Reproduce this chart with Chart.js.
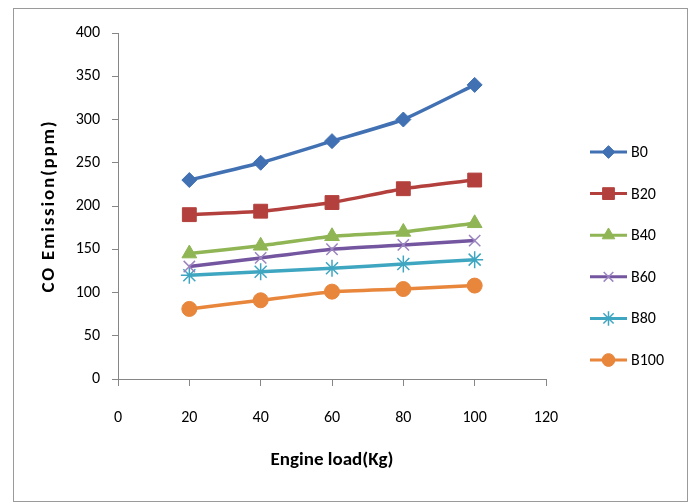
<!DOCTYPE html>
<html>
<head>
<meta charset="utf-8">
<script src="https://cdn.jsdelivr.net/npm/chart.js@4"></script>
<style>
  html, body { margin: 0; padding: 0; background: #fff; }
  #wrap { position: relative; width: 694px; height: 503px; }
</style>
</head>
<body>
<div id="wrap"><canvas id="c" width="694" height="503"></canvas></div>
<script>
const engineLoad = [20, 40, 60, 80, 100];
const seriesNames = ['B0', 'B20', 'B40', 'B60', 'B80', 'B100'];
const b0   = [230, 250, 275, 300, 340];
const b20  = [190, 194, 204, 220, 230];
const b40  = [145, 154, 165, 170, 180];
const b60  = [130, 140, 150, 155, 160];
const b80  = [120, 124, 128, 133, 138];
const b100 = [81, 91, 101, 104, 108];
const xTicks = [0, 20, 40, 60, 80, 100, 120];
const yTicks = [0, 50, 100, 150, 200, 250, 300, 350, 400];
const xTitle = 'Engine load(Kg)';
const yTitle = 'CO Emission(ppm)';

const FONT = "Carlito, 'Liberation Sans Narrow', 'Open Sans', sans-serif";
const seriesValues = [b0, b20, b40, b60, b80, b100];
const colors = ['#4171B3', '#B3403D', '#8FB554', '#7455A0', '#3FA6C1', '#E8863C'];
const markerColors = ['#4171B3', '#B3403D', '#8FB554', '#9C85BF', '#3FA6C1', '#E8863C'];
const styles = ['rectRot', 'rect', 'triangle', 'crossRot', 'star', 'circle'];
const radii = [7.5, 9.8, 8.5, 8, 8.5, 7.5];

const datasets = seriesNames.map((n, i) => ({
  label: n,
  data: engineLoad.map((x, j) => ({x: x, y: seriesValues[i][j]})),
  borderColor: colors[i],
  backgroundColor: markerColors[i],
  pointBorderColor: markerColors[i],
  pointBackgroundColor: markerColors[i],
  borderWidth: 3.5,
  pointStyle: styles[i],
  pointRadius: radii[i],
  pointBorderWidth: (styles[i] === 'crossRot' || styles[i] === 'star') ? 1.5 : 1,
  tension: 0.15,
  fill: false
}));

const frame = {
  id: 'frame',
  beforeDraw(chart) {
    const ctx = chart.ctx;
    ctx.save();
    ctx.fillStyle = '#fff';
    ctx.fillRect(0, 0, chart.width, chart.height);
    ctx.strokeStyle = '#9a9a9a';
    ctx.lineWidth = 1;
    ctx.strokeRect(13.5, 8.5, 674, 493);
    ctx.restore();
  }
};

const yTitlePlugin = {
  id: 'yTitlePlugin',
  afterDraw(chart) {
    const ctx = chart.ctx;
    const a = chart.chartArea;
    ctx.save();
    ctx.translate(53.5, (a.top + a.bottom) / 2);
    ctx.rotate(-Math.PI / 2);
    ctx.font = 'bold 19px ' + FONT;
    if ('letterSpacing' in ctx) ctx.letterSpacing = '1.8px';
    ctx.fillStyle = '#000';
    ctx.textAlign = 'center';
    ctx.textBaseline = 'alphabetic';
    ctx.fillText(yTitle, 0, 0);
    ctx.restore();
  }
};

const customLegend = {
  id: 'customLegend',
  afterDraw(chart) {
    const ctx = chart.ctx;
    ctx.save();
    const x0 = 590, x1 = 627, tx = 631, y0 = 152, dy = 41.6;
    chart.data.datasets.forEach((ds, i) => {
      const y = y0 + i * dy;
      ctx.strokeStyle = ds.borderColor;
      ctx.lineWidth = 3;
      ctx.beginPath();
      ctx.moveTo(x0, y);
      ctx.lineTo(x1, y);
      ctx.stroke();
      ctx.fillStyle = ds.pointBackgroundColor;
      ctx.strokeStyle = ds.pointBorderColor;
      ctx.lineWidth = ds.pointBorderWidth;
      Chart.helpers.drawPoint(ctx, {pointStyle: ds.pointStyle, radius: ds.pointRadius * 0.85, rotation: 0, borderWidth: ds.pointBorderWidth}, (x0 + x1) / 2, y);
      ctx.fillStyle = '#000';
      ctx.font = '16px ' + FONT;
      ctx.textAlign = 'left';
      ctx.textBaseline = 'middle';
      ctx.fillText(ds.label, tx, y + 1);
    });
    ctx.restore();
  }
};

new Chart(document.getElementById('c'), {
  type: 'line',
  data: { datasets: datasets },
  plugins: [frame, yTitlePlugin, customLegend],
  options: {
    responsive: false,
    animation: false,
    layout: { padding: { left: 37, top: 33, right: 148, bottom: 30 } },
    plugins: { legend: { display: false }, tooltip: { enabled: false } },
    scales: {
      x: {
        type: 'linear',
        min: 0, max: 120,
        afterBuildTicks: (s) => { s.ticks = xTicks.map(v => ({value: v})); },
        afterFit: (s) => { s.height = 94; },
        grid: { drawOnChartArea: false, color: '#868686', tickLength: 7 },
        border: { color: '#868686', width: 1 },
        ticks: { color: '#000', font: { family: FONT, size: 16 }, padding: 22, maxRotation: 0 },
        title: { display: true, text: xTitle, color: '#000', font: { family: FONT, size: 19, weight: 'bold' }, padding: { top: 0, bottom: 1 } }
      },
      y: {
        type: 'linear',
        min: 0, max: 400,
        afterBuildTicks: (s) => { s.ticks = yTicks.map(v => ({value: v})); },
        afterFit: (s) => { s.width = 81; },
        grid: { drawOnChartArea: false, color: '#868686', tickLength: 6 },
        border: { color: '#868686', width: 1 },
        ticks: { color: '#000', font: { family: FONT, size: 16 }, padding: 12 },
        title: { display: false }
      }
    }
  }
});
</script>
</body>
</html>
